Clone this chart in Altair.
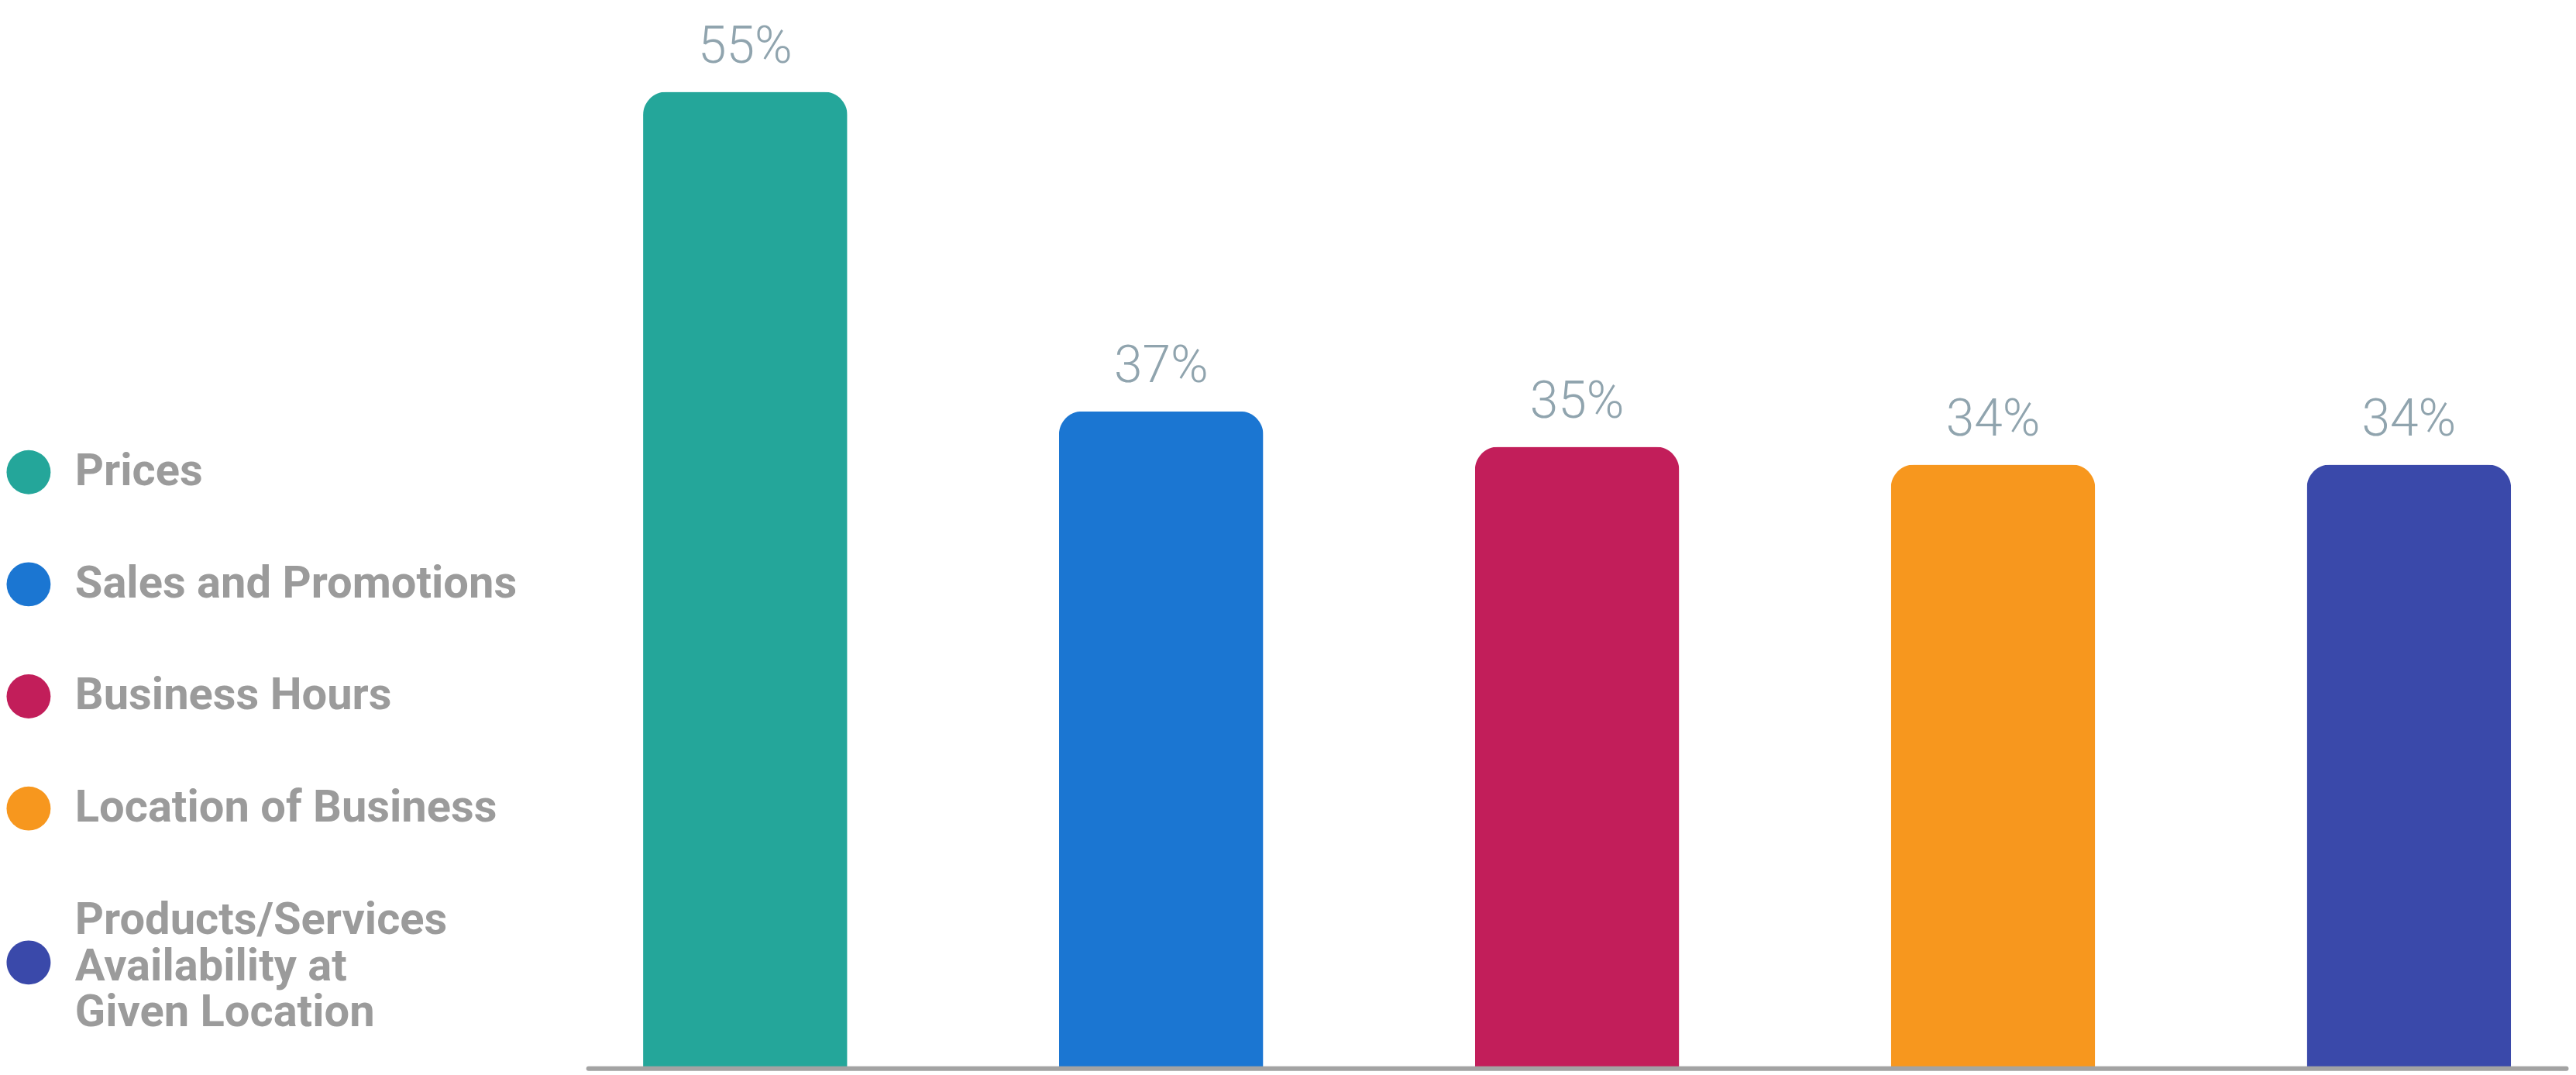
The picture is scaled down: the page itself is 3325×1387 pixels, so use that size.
import altair as alt
import pandas as pd

categories = [
    "Prices",
    "Sales and Promotions",
    "Business Hours",
    "Location of Business",
    "Products/Services Availability at Given Location",
]
values = [55, 37, 35, 34, 34]
colors = ["#24a69a", "#1b76d2", "#c21e5a", "#f7971e", "#3a49aa"]
legend_lines = {
    "Products/Services Availability at Given Location": ["Products/Services", "Availability at", "Given Location"],
}

df = pd.DataFrame({"category": categories, "value": values})
df["label"] = [f"{v}%" for v in values]

label_expr = "datum.label"
symbol_expr = "'circle'"
for name, lines in legend_lines.items():
    arr = "[" + ", ".join("'" + l + "'" for l in lines) + "]"
    label_expr = f"datum.label == '{name}' ? {arr} : " + label_expr
    # circle centred on the middle line of a wrapped label
    shifted_circle = "'M-1,1.9A1,1,0,1,1,1,1.9A1,1,0,1,1,-1,1.9Z'"
    symbol_expr = f"datum.value == '{name}' ? {shifted_circle} : " + symbol_expr

x_enc = alt.X(
    "category:N",
    sort=categories,
    title=None,
    scale=alt.Scale(paddingInner=0.509, paddingOuter=0.132),
    axis=alt.Axis(labels=False, ticks=False, title=None, grid=False,
                  domain=True, domainColor="#a3a3a3", domainWidth=6,
                  domainCap="round", zindex=1),
)
y_enc = alt.Y("value:Q", scale=alt.Scale(domain=[0, 59.75], nice=False), axis=None)

bars = alt.Chart(df).mark_bar(
    cornerRadiusTopLeft=30, cornerRadiusTopRight=30
).encode(
    x=x_enc,
    y=y_enc,
    color=alt.Color(
        "category:N",
        sort=categories,
        scale=alt.Scale(domain=categories, range=colors),
        legend=alt.Legend(
            title=None, orient="none", legendX=-753, legendY=572,
            symbolType=alt.ExprRef(symbol_expr), symbolSize=3249,
            symbolStrokeWidth=0, symbolOpacity=1,
            labelFont="Roboto", labelFontSize=58,
            labelFontWeight="bold", labelColor="#9b9b9b", labelOffset=31,
            labelLimit=1500, rowPadding=87, labelExpr=label_expr,
        ),
    ),
)

texts = alt.Chart(df).mark_text(
    dy=-38, baseline="alphabetic", align="center", font="Roboto",
    fontWeight=300, fontSize=66, color="#90a4ae",
).encode(x=x_enc, y=y_enc, text="label:N")

chart = alt.layer(bars, texts).properties(
    width=2559, height=1372,
    autosize=alt.AutoSizeParams(type="none"),
    padding={"left": 753, "top": 0, "right": 5, "bottom": 12},
).configure_view(stroke=None)

chart.save("out.html", embed_options={"renderer": "svg", "actions": False})
